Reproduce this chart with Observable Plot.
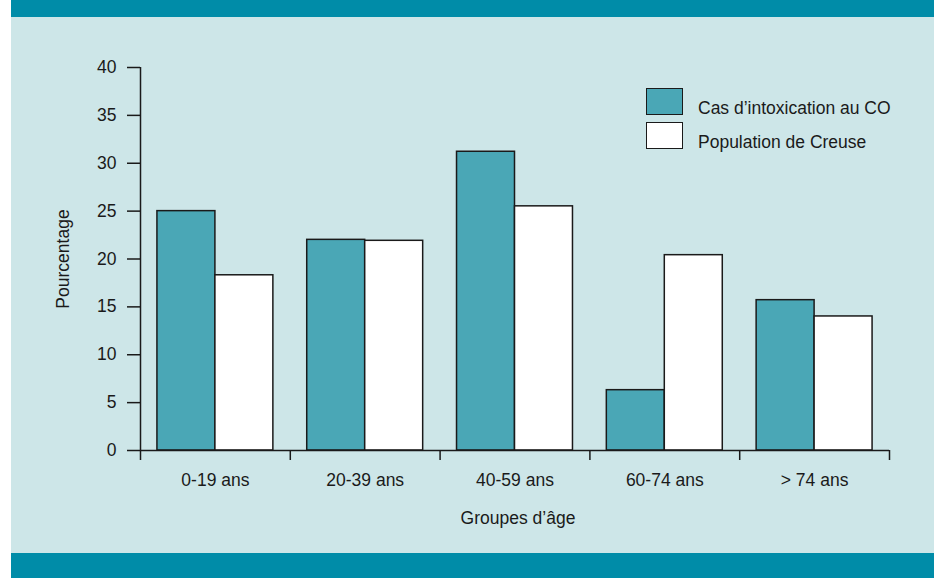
<!DOCTYPE html>
<html>
<head>
<meta charset="utf-8">
<script src="https://cdn.jsdelivr.net/npm/d3@7"></script>
<script src="https://cdn.jsdelivr.net/npm/@observablehq/plot@0.6"></script>
<style>
  html, body { margin: 0; padding: 0; background: #ffffff; }
  #wrap { position: absolute; left: 11px; top: 0; width: 923px; height: 578px; background: #cde6e8; font-family: "Liberation Sans", Arial, sans-serif; }
  #topband { position: absolute; left: 0; top: 0; width: 923px; height: 17px; background: #008ca8; }
  #botband { position: absolute; left: 0; top: 553px; width: 923px; height: 25px; background: #008ca8; }
  #chart { position: absolute; left: 0; top: 17px; }
  #legend { position: absolute; left: 635px; top: 88px; font-size: 17.5px; color: #1a1a1a; }
  .item { position: relative; height: 34px; }
  .sw { position: absolute; left: 0; top: 0; width: 35px; height: 25px; border: 1.5px solid #1a1a1a; }
  .lb { position: absolute; left: 52px; top: 10px; white-space: nowrap; line-height: 20px; }
</style>
</head>
<body>
<div id="wrap">
  <div id="topband"></div>
  <div id="chart"></div>
  <div id="botband"></div>
  <div id="legend"></div>
</div>
<script>
const groups = ["0-19 ans", "20-39 ans", "40-59 ans", "60-74 ans", "> 74 ans"];
const cases = [25.0, 22.0, 31.2, 6.3, 15.7];
const population = [18.3, 21.9, 25.5, 20.4, 14.0];
const seriesNames = ["Cas d\u2019intoxication au CO", "Population de Creuse"];
const seriesColors = ["#4aa7b6", "#ffffff"];
const yTicks = [0, 5, 10, 15, 20, 25, 30, 35, 40];

const rows = [];
groups.forEach((g, i) => {
  rows.push({group: g, index: i, series: seriesNames[0], value: cases[i], slot: 0});
  rows.push({group: g, index: i, series: seriesNames[1], value: population[i], slot: 1});
});

const ink = "#1a1a1a";
const pad = 0.113;

const chart = Plot.plot({
  width: 923,
  height: 536,
  marginLeft: 129,
  marginRight: 45,
  marginTop: 50,
  marginBottom: 103,
  style: {background: "transparent", fontFamily: "'Liberation Sans', Arial, sans-serif", fontSize: "17px", color: ink},
  x: {domain: [0, groups.length], axis: null},
  y: {domain: [0, 40], axis: null},
  marks: [
    Plot.rectY(rows, {
      x1: d => d.index + (d.slot === 0 ? pad : 0.5),
      x2: d => d.index + (d.slot === 0 ? 0.5 : 1 - pad),
      y: "value",
      fill: d => seriesColors[d.slot],
      stroke: ink,
      strokeWidth: 1.5
    }),
    Plot.axisY({ticks: yTicks, tickSize: 13, tickPadding: 11, label: null, stroke: ink, strokeWidth: 1.5, fontSize: 17.5}),
    Plot.axisX({ticks: d3.range(0, groups.length + 1), tickSize: 10, tickFormat: () => "", label: null, stroke: ink, strokeWidth: 1.5}),
    Plot.ruleX([0], {stroke: ink, strokeWidth: 1.5}),
    Plot.ruleY([0], {stroke: ink, strokeWidth: 1.5}),
    Plot.text(groups, {x: (d, i) => i + 0.5, y: 0, dy: 30, text: d => d, fill: ink, fontSize: 17.5}),
    Plot.text(["Groupes d\u2019\u00e2ge"], {frameAnchor: "bottom", dy: 68, dx: 3, lineAnchor: "middle", textAnchor: "middle", fill: ink, fontSize: 17.5}),
    Plot.text(["Pourcentage"], {frameAnchor: "left", dx: -77, rotate: -90, textAnchor: "middle", lineAnchor: "middle", fill: ink, fontSize: 17.5})
  ]
});
document.getElementById("chart").appendChild(chart);

const legend = document.getElementById("legend");
seriesNames.forEach((name, i) => {
  const item = document.createElement("div");
  item.className = "item";
  const sw = document.createElement("div");
  sw.className = "sw";
  sw.style.background = seriesColors[i];
  const lb = document.createElement("div");
  lb.className = "lb";
  lb.textContent = name;
  item.appendChild(sw);
  item.appendChild(lb);
  legend.appendChild(item);
});
</script>
</body>
</html>
